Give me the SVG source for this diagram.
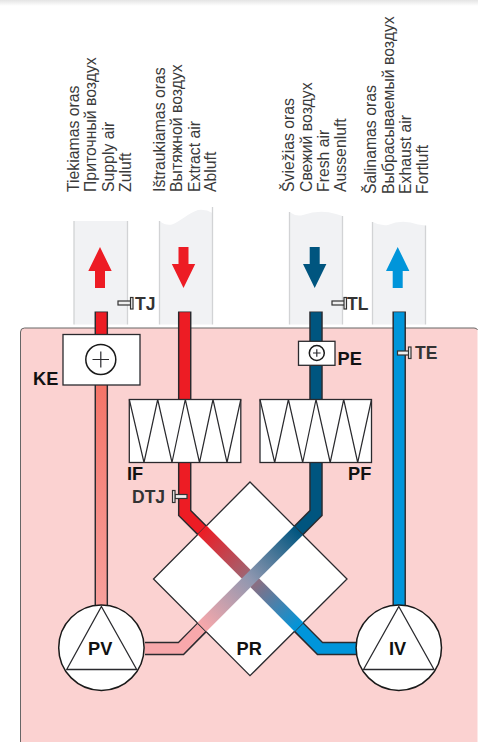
<svg xmlns="http://www.w3.org/2000/svg" width="478" height="742" viewBox="0 0 478 742">
<style>
.cap{font:15.8px "Liberation Sans",Arial,sans-serif;fill:#3a3a3a}
.lb{font:bold 18.2px "Liberation Sans",Arial,sans-serif;fill:#111}
.ls{font:bold 17.5px "Liberation Sans",Arial,sans-serif;fill:#333}
.duct{fill:#f1f2f4}
.edge{stroke:#d2d3d5;stroke-width:1.3;fill:none}
.po{fill:none;stroke:#2a2a2e;stroke-width:13.5;stroke-linejoin:miter}
.pi{fill:none;stroke-width:10.6;stroke-linejoin:miter}
.box{fill:#fff;stroke:#2a2a2e;stroke-width:1.3}
.thin{fill:none;stroke:#2a2a2e;stroke-width:1.2}
.fan{fill:#fff;stroke:#1a1a1a;stroke-width:1.5}
.tri{fill:none;stroke:#2a2a2e;stroke-width:1.3}
.sen{fill:#eee;stroke:#333;stroke-width:1.2}
</style>
<defs>
<linearGradient id="top" x1="0" y1="0" x2="0" y2="1"><stop offset="0" stop-color="#e4e4e4"/><stop offset="1" stop-color="#fff"/></linearGradient>
<linearGradient id="sup" gradientUnits="userSpaceOnUse" x1="0" y1="385" x2="0" y2="605"><stop offset="0" stop-color="#f47468"/><stop offset="1" stop-color="#f8a09c"/></linearGradient>
<linearGradient id="rb" gradientUnits="userSpaceOnUse" x1="202" y1="530" x2="299" y2="627"><stop offset="0" stop-color="#ed1c24"/><stop offset=".5" stop-color="#9a6a78"/><stop offset="1" stop-color="#0095da"/></linearGradient>
<linearGradient id="bp" gradientUnits="userSpaceOnUse" x1="298.5" y1="530.5" x2="202" y2="627"><stop offset="0" stop-color="#00557f"/><stop offset=".5" stop-color="#8f97b0"/><stop offset="1" stop-color="#f8a8ab"/></linearGradient>
<path id="ar" d="M0-20.5L11.700 3.500H5V20.500H-5V3.500H-11.700Z"/>
</defs>
<rect width="478" height="6" fill="url(#top)"/>
<path d="M20.500 742V332Q20.500 328 24.500 328H474Q477 328 477.500 330V742Z" fill="#fbd2d1"/>
<path d="M20.500 742V332Q20.500 328 24.500 328H474Q477 328 477.500 330" fill="none" stroke="#666" stroke-width="1"/>

<g id="ducts">
<rect class="duct" x="74" y="221" width="53.500" height="103.500"/>
<path class="edge" d="M74 221V324.500M127.500 221V324.500"/>
<path class="duct" d="M159.500 221Q166 226 172 224.500C180 222 188 213 198 210Q206 209 212.500 213V324.500H159.500Z"/>
<path class="edge" d="M159.500 221V324.500M212.500 207V324.500"/>
<path class="duct" d="M289.500 212Q296 217 303 215Q320 209 336 214L342.500 216V324.500H289.500Z"/>
<path class="edge" d="M289.500 212V324.500M342.500 216V324.500"/>
<path class="duct" d="M372.500 222Q380 226 388 225Q402 219 418 224.500L425.500 225.500V324.500H372.500Z"/>
<path class="edge" d="M372.500 222V324.500M425.500 225.500V324.500"/>
<use href="#ar" x="100" y="267.500" fill="#ed1c24"/>
<use href="#ar" x="183.500" y="267.500" fill="#ed1c24" transform="rotate(180 183.500 267.500)"/>
<use href="#ar" x="314.700" y="267.500" fill="#00557f" transform="rotate(180 314.700 267.500)"/>
<use href="#ar" x="397.700" y="267.500" fill="#0095da"/>
</g>

<g id="connectors">
<path class="po" d="M101.300 311.500V606"/>
<path class="pi" d="M101.300 312.300V385" stroke="#ed1c24"/>
<path class="pi" d="M101.300 385V606" stroke="url(#sup)"/>
<path class="po" d="M184.700 311.500V513L320 648.500H358"/>
<path class="pi" d="M184.700 312.300V513L202 530.300" stroke="#ed1c24"/>
<path class="pi" d="M298.800 627.100L320 648.500H358" stroke="#0095da"/>
<path class="po" d="M316 311.500V513L181 648.500H145"/>
<path class="pi" d="M316 312.300V513L298.500 530.500" stroke="#00557f"/>
<path class="pi" d="M202 627L181 648.500H145" stroke="#f8a8ab"/>
<path class="po" d="M399.200 311.500V606"/>
<path class="pi" d="M399.200 312.300V606" stroke="#0095da"/>
</g>

<g id="PR">
<path d="M250 482L347 579L250 675.700L153.500 579Z" fill="#fff" stroke="#2a2a2e" stroke-width="1.300"/>
<path d="M202 530L299 627" fill="none" stroke="url(#rb)" stroke-width="12.500"/>
<path d="M298.500 530.500L202 627" fill="none" stroke="url(#bp)" stroke-width="12.500"/>
<text class="lb" x="236.500" y="655">PR</text>
</g>

<g id="KE">
<rect class="box" x="63" y="334.500" width="77" height="50.500"/>
<circle cx="100.800" cy="359.500" r="15" class="fan" stroke-width="1.300"/>
<path class="thin" d="M92.500 359.500H109M100.800 351.500V367.500"/>
<text class="lb" x="33" y="384.500">KE</text>
</g>

<g id="PE">
<rect class="box" x="298.500" y="341.300" width="36.500" height="24"/>
<circle cx="316.800" cy="353" r="7.500" class="fan"/>
<path class="thin" d="M313 353H320.600M316.800 349.200V356.800"/>
<text class="lb" x="337.500" y="365">PE</text>
</g>

<g id="IF">
<rect class="box" x="129.300" y="399.500" width="111.500" height="63"/>
<path class="thin" d="M129.300 399.500L144 462.500L157.700 399.500L172 462.500L185.300 399.500L199.500 462.500L213 399.500L227 462.500L240.800 399.500"/>
<text class="lb" x="127" y="480">IF</text>
</g>

<g id="PF">
<rect class="box" x="260" y="399.500" width="111.500" height="63"/>
<path class="thin" d="M260 399.500L274.700 462.500L288.400 399.500L302.700 462.500L316 399.500L330.200 462.500L343.700 399.500L357.700 462.500L371.500 399.500"/>
<text class="lb" x="348" y="480">PF</text>
</g>

<g id="PV">
<circle class="fan" cx="101.400" cy="647.700" r="42.700"/>
<path class="tri" d="M101.400 606.500L66.700 669.500H136.700Z"/>
<text class="lb" x="88" y="655">PV</text>
</g>

<g id="IV">
<circle class="fan" cx="398.800" cy="647.700" r="42.700"/>
<path class="tri" d="M398.800 606.500L363.500 669.500H434Z"/>
<text class="lb" x="389" y="655">IV</text>
</g>

<g id="TJ"><rect class="sen" x="118" y="301" width="13" height="4"/><rect class="sen" x="130.500" y="297.500" width="2.500" height="11.500"/><text class="ls" x="135" y="310">TJ</text></g>
<g id="TL"><rect class="sen" x="332" y="301" width="13" height="4"/><rect class="sen" x="344" y="297.500" width="2.500" height="11.500"/><text class="ls" x="347" y="310">TL</text></g>
<g id="TE"><rect class="sen" x="397.500" y="351" width="12" height="4"/><rect class="sen" x="408.500" y="347" width="2.500" height="11.500"/><text class="ls" x="415" y="359">TE</text></g>
<g id="DTJ"><rect class="sen" x="175" y="494.500" width="12" height="4"/><rect class="sen" x="172.500" y="490.500" width="2.500" height="12"/><text class="ls" x="132" y="503">DTJ</text></g>

<g id="captions">
<text class="cap" transform="translate(79 192) rotate(-90)">Tiekiamas oras</text>
<text class="cap" transform="translate(96 192) rotate(-90)">Приточный воздух</text>
<text class="cap" transform="translate(113.500 192) rotate(-90)">Supply air</text>
<text class="cap" transform="translate(131 192) rotate(-90)">Zuluft</text>
<text class="cap" transform="translate(165 192) rotate(-90)">Ištraukiamas oras</text>
<text class="cap" transform="translate(182 192) rotate(-90)">Вытяжной воздух</text>
<text class="cap" transform="translate(199.500 192) rotate(-90)">Extract air</text>
<text class="cap" transform="translate(216 192) rotate(-90)">Abluft</text>
<text class="cap" transform="translate(294 192) rotate(-90)">Šviežias oras</text>
<text class="cap" transform="translate(311.500 192) rotate(-90)">Свежий воздух</text>
<text class="cap" transform="translate(329 192) rotate(-90)">Fresh air</text>
<text class="cap" transform="translate(346 192) rotate(-90)">Aussenluft</text>
<text class="cap" transform="translate(376 194) rotate(-90)">Šalinamas oras</text>
<text class="cap" transform="translate(393.500 194) rotate(-90)">Выбрасываемый воздух</text>
<text class="cap" transform="translate(411 194) rotate(-90)">Exhaust air</text>
<text class="cap" transform="translate(427.500 194) rotate(-90)">Fortluft</text>
</g>
</svg>
